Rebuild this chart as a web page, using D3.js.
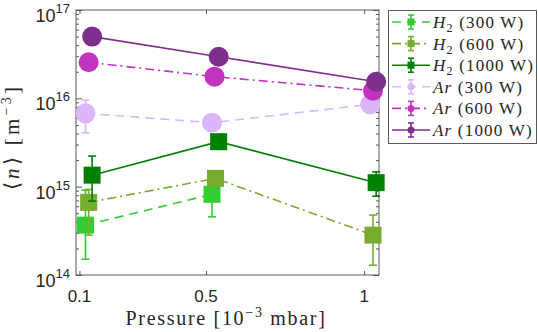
<!DOCTYPE html>
<html>
<head>
<meta charset="utf-8">
<script src="https://cdn.jsdelivr.net/npm/d3@7"></script>
<style>
body { margin: 0; background: #fff; }
svg { display: block; }
</style>
</head>
<body>
<script>
// series, in drawing order (later ones on top)
var names   = ['H2 300', 'H2 600', 'H2 1000', 'Ar 300', 'Ar 600', 'Ar 1000'];
var gas     = ['H', 'H', 'H', 'Ar', 'Ar', 'Ar'];
var power   = ['300', '600', '1000', '300', '600', '1000'];
var colors  = ['#33cc33', '#77ac30', '#008000', '#dbb6fb', '#c034c0', '#7e2f8e'];
var styles  = ['dash', 'dashdot', 'solid', 'dash', 'dashdot', 'solid'];
var shapes  = ['square', 'square', 'square', 'circle', 'circle', 'circle'];

// pressure [1e-3 mbar] (slightly offset per series in the original)
var pH2_300  = [0.119, 0.519];
var pH2_600  = [0.129, 0.530, 1.028];
var pH2_1000 = [0.140, 0.540, 1.038];
var pAr_300  = [0.119, 0.519, 1.019];
var pAr_600  = [0.129, 0.527, 1.028];
var pAr_1000 = [0.140, 0.540, 1.038];

// mean density <n> [m^-3]
var nH2_300  = [3.67e14, 8.2e14];
var nH2_600  = [6.64e14, 1.24e15, 2.83e14];
var nH2_1000 = [1.35e15, 3.23e15, 1.11e15];
var nAr_300  = [6.76e15, 5.3e15, 8.55e15];
var nAr_600  = [2.56e16, 1.76e16, 1.22e16];
var nAr_1000 = [5.0e16, 2.96e16, 1.54e16];

// error bar limits
var loH2_300  = [1.51e14, 4.56e14];
var hiH2_300  = [9.1e14, 1.18e15];
var loH2_600  = [2.83e14, 1.1e15, 1.29e14];
var hiH2_600  = [9.3e14, 1.4e15, 4.77e14];
var loH2_1000 = [6.87e14, 2.9e15, 7.8e14];
var hiH2_1000 = [2.22e15, 3.7e15, 1.47e15];
var loAr_300  = [4.07e15, 4.7e15, 7.6e15];
var hiAr_300  = [9.57e15, 5.9e15, 9.6e15];
var loAr_600  = [2.4e16, 1.65e16, 1.15e16];
var hiAr_600  = [2.7e16, 1.87e16, 1.3e16];
var loAr_1000 = [4.8e16, 2.85e16, 1.47e16];
var hiAr_1000 = [5.2e16, 3.07e16, 1.61e16];

var xTicks = [0.1, 0.5, 1];
var xTickLabels = ['0.1', '0.5', '1'];
var yExps = [14, 15, 16, 17];

var P  = [pH2_300, pH2_600, pH2_1000, pAr_300, pAr_600, pAr_1000];
var N  = [nH2_300, nH2_600, nH2_1000, nAr_300, nAr_600, nAr_1000];
var LO = [loH2_300, loH2_600, loH2_1000, loAr_300, loAr_600, loAr_1000];
var HI = [hiH2_300, hiH2_600, hiH2_1000, hiAr_300, hiAr_600, hiAr_1000];

var dashes = { solid: null, dash: '9,6', dashdot: '9,4,2,4' };

var W = 538, H = 332;
var pl = 76, pr = 379, pt = 10, pb = 275;

var svg = d3.select('body').append('svg')
    .attr('width', W)
    .attr('height', H);

var x = d3.scaleLinear().domain([0.089, 1.047]).range([pl, pr]);
var y = d3.scaleLog().domain([1e14, 1e17]).range([pb, pt]);

var axisColor = '#5a5a5a';
var serif = '"Liberation Serif", "Times New Roman", serif';
var sans = '"Liberation Sans", Arial, sans-serif';

// ticks (inward, all four sides)
var major = yExps.map(function (e) { return Math.pow(10, e); });
var minor = y.ticks().filter(function (v) {
    var l = Math.log10(v);
    return Math.abs(l - Math.round(l)) > 1e-6;
});

function drawAxis(g) {
    g.selectAll('.domain').remove();
    g.selectAll('line').attr('stroke', axisColor);
}

svg.append('g').attr('transform', 'translate(' + pl + ',0)')
    .call(d3.axisRight(y).tickValues(minor).tickSize(3).tickFormat(''))
    .call(drawAxis);
svg.append('g').attr('transform', 'translate(' + pl + ',0)')
    .call(d3.axisRight(y).tickValues(major).tickSize(6).tickFormat(''))
    .call(drawAxis);
svg.append('g').attr('transform', 'translate(' + pr + ',0)')
    .call(d3.axisLeft(y).tickValues(minor).tickSize(3).tickFormat(''))
    .call(drawAxis);
svg.append('g').attr('transform', 'translate(' + pr + ',0)')
    .call(d3.axisLeft(y).tickValues(major).tickSize(6).tickFormat(''))
    .call(drawAxis);
svg.append('g').attr('transform', 'translate(0,' + pb + ')')
    .call(d3.axisTop(x).tickValues(xTicks).tickSize(4).tickFormat(''))
    .call(drawAxis);
svg.append('g').attr('transform', 'translate(0,' + pt + ')')
    .call(d3.axisBottom(x).tickValues(xTicks).tickSize(4).tickFormat(''))
    .call(drawAxis);

svg.append('rect')
    .attr('x', pl).attr('y', pt)
    .attr('width', pr - pl).attr('height', pb - pt)
    .attr('fill', 'none').attr('stroke', axisColor).attr('stroke-width', 1);

// tick labels
svg.selectAll('.xt').data(xTicks).enter().append('text')
    .attr('x', function (d) { return x(d); })
    .attr('y', 302)
    .attr('text-anchor', 'middle')
    .style('font-family', sans)
    .style('font-size', '17px')
    .attr('fill', '#262626')
    .text(function (d, i) { return xTickLabels[i]; });

var yt = svg.selectAll('.yt').data(yExps).enter().append('text')
    .attr('x', 70)
    .attr('y', function (e) { return y(Math.pow(10, e)) + 12; })
    .attr('text-anchor', 'end')
    .style('font-family', sans)
    .style('font-size', '18px')
    .attr('fill', '#262626');
yt.append('tspan').text('10');
yt.append('tspan').attr('dy', -9).style('font-size', '13px').text(function (e) { return e; });

// axis labels
var xl = svg.append('text')
    .attr('x', 226).attr('y', 325)
    .attr('text-anchor', 'middle')
    .style('font-family', serif)
    .style('font-size', '20px')
    .style('letter-spacing', '1.7px')
    .attr('fill', '#262626');
xl.append('tspan').text('Pressure [10');
xl.append('tspan').attr('dy', -8).style('font-size', '14px').text('\u22123');
xl.append('tspan').attr('dy', 8).text(' mbar]');

var yl = svg.append('text')
    .attr('transform', 'translate(19,137) rotate(-90)')
    .attr('text-anchor', 'middle')
    .style('font-family', serif)
    .style('font-size', '21px')
    .style('letter-spacing', '3.3px')
    .attr('fill', '#262626');
yl.append('tspan').text('\u27e8');
yl.append('tspan').style('font-style', 'italic').text('n');
yl.append('tspan').text('\u27e9 [m');
yl.append('tspan').attr('dy', -8).style('font-size', '14px').text('\u22123');
yl.append('tspan').attr('dy', 8).text(']');

// series
var line = d3.line()
    .x(function (d) { return x(d[0]); })
    .y(function (d) { return y(d[1]); });

function marker(g, shape, cx, cy, size, color) {
    if (shape == 'circle') {
        g.append('circle').attr('cx', cx).attr('cy', cy).attr('r', size / 2).attr('fill', color);
    } else {
        g.append('rect').attr('x', cx - size / 2).attr('y', cy - size / 2)
            .attr('width', size).attr('height', size).attr('fill', color);
    }
}

names.forEach(function (name, s) {
    var g = svg.append('g');
    var pts = P[s].map(function (p, i) { return [p, N[s][i]]; });
    var c = colors[s];

    g.append('path')
        .attr('d', line(pts))
        .attr('fill', 'none')
        .attr('stroke', c)
        .attr('stroke-width', 1.6)
        .attr('stroke-dasharray', dashes[styles[s]]);

    P[s].forEach(function (p, i) {
        var cx = x(p);
        g.append('line')
            .attr('x1', cx).attr('x2', cx)
            .attr('y1', y(LO[s][i])).attr('y2', y(HI[s][i]))
            .attr('stroke', c).attr('stroke-width', 1.6);
        [LO[s][i], HI[s][i]].forEach(function (v) {
            g.append('line')
                .attr('x1', cx - 4).attr('x2', cx + 4)
                .attr('y1', y(v)).attr('y2', y(v))
                .attr('stroke', c).attr('stroke-width', 1.6);
        });
    });

    P[s].forEach(function (p, i) {
        marker(g, shapes[s], x(p), y(N[s][i]), shapes[s] == 'circle' ? 20 : 17, c);
    });
});

// legend
var lg = svg.append('g');
lg.append('rect')
    .attr('x', 388.5).attr('y', 10.5)
    .attr('width', 148).attr('height', 133)
    .attr('fill', '#fff').attr('stroke', axisColor);

names.forEach(function (name, s) {
    var ly = 22 + s * 21.6;
    var c = colors[s];
    lg.append('line')
        .attr('x1', 392).attr('x2', 430).attr('y1', ly).attr('y2', ly)
        .attr('stroke', c).attr('stroke-width', 1.6)
        .attr('stroke-dasharray', dashes[styles[s]]);
    lg.append('line')
        .attr('x1', 411).attr('x2', 411).attr('y1', ly - 7).attr('y2', ly + 7)
        .attr('stroke', c).attr('stroke-width', 1.6);
    [-7, 7].forEach(function (o) {
        lg.append('line')
            .attr('x1', 408).attr('x2', 414).attr('y1', ly + o).attr('y2', ly + o)
            .attr('stroke', c).attr('stroke-width', 1.6);
    });
    marker(lg, shapes[s], 411, ly, 7, c);

    var t = lg.append('text')
        .attr('x', 433).attr('y', ly + 6)
        .style('font-family', serif)
        .style('font-size', '17px')
        .style('letter-spacing', '1.2px')
        .attr('fill', '#262626');
    if (gas[s] == 'H') {
        t.append('tspan').style('font-style', 'italic').text('H');
        t.append('tspan').attr('dy', 4).style('font-size', '12px').text('2');
        t.append('tspan').attr('dy', -4).text(' (' + power[s] + ' W)');
    } else {
        t.append('tspan').style('font-style', 'italic').text('Ar');
        t.append('tspan').text(' (' + power[s] + ' W)');
    }
});
</script>
</body>
</html>
